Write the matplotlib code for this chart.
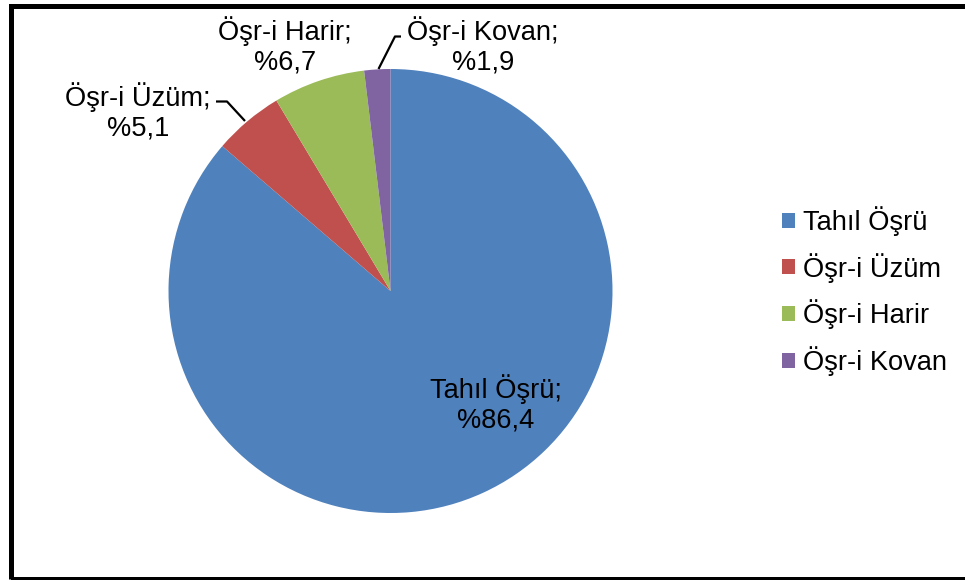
import matplotlib
matplotlib.use("Agg")
import matplotlib.pyplot as plt
from matplotlib.patches import Rectangle, Patch

categories = ["Tahıl Öşrü", "Öşr-i Üzüm", "Öşr-i Harir", "Öşr-i Kovan"]
values = [86.4, 5.1, 6.7, 1.9]
value_labels = ["%86,4", "%5,1", "%6,7", "%1,9"]
colors = ["#4F81BD", "#C0504D", "#9BBB59", "#8064A2"]

plt.rcParams['font.family'] = ['Liberation Sans', 'DejaVu Sans']
FS = 19.6

W, H = 965, 580
fig = plt.figure(figsize=(W / 100, H / 100), dpi=100)
ax = fig.add_axes([0, 0, 1, 1])
ax.set_xlim(0, W)
ax.set_ylim(0, H)
ax.set_aspect('equal')
ax.axis('off')

def Y(y):
    return H - y

wedges, _ = ax.pie(values, colors=colors, startangle=90, counterclock=False,
                   center=(390.5, Y(291)), radius=222,
                   wedgeprops=dict(linewidth=0), frame=True)
ax.set_xlim(0, W)
ax.set_ylim(0, H)
ax.axis('off')

# data labels
label_pos = [(496, 404), (138, 112), (285, 46), (483, 46)]
for cat, vl, (x, y) in zip(categories, value_labels, label_pos):
    ax.text(x, Y(y), f"{cat};\n{vl}", ha='center', va='center', fontsize=FS,
            linespacing=1.15, color='black')

# leader lines
ax.plot([216, 227, 245], [Y(101.5), Y(101.5), Y(121)], color='black', lw=1.6,
        solid_capstyle='butt')
ax.plot([378.5, 395, 401], [Y(69), Y(36.5), Y(36.5)], color='black', lw=1.6,
        solid_capstyle='butt')

# legend
handles = [Patch(facecolor=c, edgecolor='none') for c in colors]
leg = ax.legend(handles, categories, loc='upper left',
                bbox_to_anchor=(782 / W, 1 - 206 / H), bbox_transform=fig.transFigure,
                frameon=False, fontsize=FS, handlelength=0.48, handleheight=0.48,
                handletextpad=0.3, labelspacing=0.62, borderpad=0, borderaxespad=0)

# outer frame
fig.patches.append(Rectangle((10.5, 1.5), 1000, 572.5, transform=None,
                             fill=False, edgecolor='black', linewidth=3.6))

fig.savefig("out.png", dpi=100, facecolor='white')
